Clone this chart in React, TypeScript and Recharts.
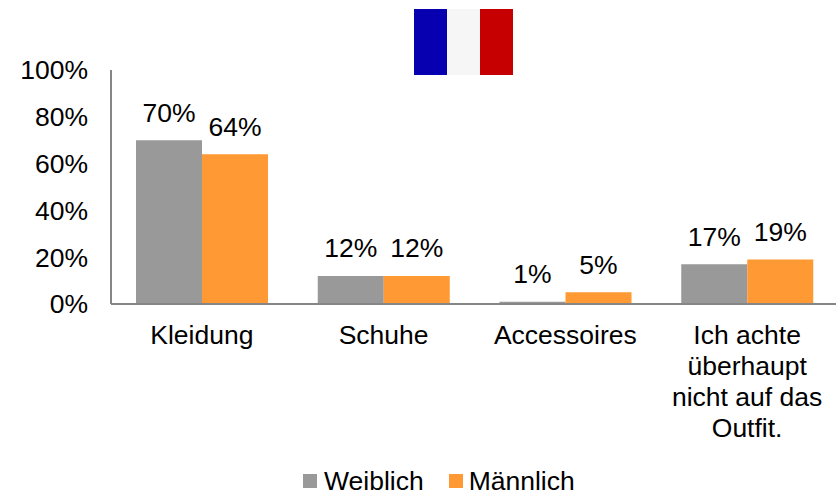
import { BarChart, Bar, XAxis, YAxis, Legend, LabelList } from "recharts";

const CATEGORIES = ["Kleidung", "Schuhe", "Accessoires", "Ich achte überhaupt nicht auf das Outfit."];
const WEIBLICH = [70, 12, 1, 17];
const MAENNLICH = [64, 12, 5, 19];
const Y_TICKS = [0, 20, 40, 60, 80, 100];

const CATEGORY_LINES: Record<string, string[]> = {
  "Ich achte überhaupt nicht auf das Outfit.": ["Ich achte", "überhaupt", "nicht auf das", "Outfit."],
};

const FONT = "'Liberation Sans', Arial, sans-serif";
const FONT_SIZE = 26.5;
const AXIS_COLOR = "#868686";

const chartData = CATEGORIES.map((category, i) => ({
  category,
  weiblich: WEIBLICH[i],
  maennlich: MAENNLICH[i],
}));

function CategoryTick({ x, y, payload }: any) {
  const lines = CATEGORY_LINES[payload.value] ?? [payload.value];
  return (
    <text x={x} y={y} textAnchor="middle" fontSize={FONT_SIZE} fill="#000" fontFamily={FONT}>
      {lines.map((line: string, i: number) => (
        <tspan key={line} x={x} dy={i === 0 ? 32 : 31}>
          {line}
        </tspan>
      ))}
    </text>
  );
}

function ChartLegend() {
  return (
    <div style={{ display: "flex", alignItems: "center", fontSize: FONT_SIZE, fontFamily: FONT, lineHeight: "30px", color: "#000", whiteSpace: "nowrap" }}>
      <span style={{ width: 14, height: 14, background: "#999999", marginRight: 7 }} />
      <span style={{ marginRight: 25 }}>Weiblich</span>
      <span style={{ width: 14, height: 14, background: "#ff9933", marginRight: 6 }} />
      <span>Männlich</span>
    </div>
  );
}

export default function App() {
  return (
    <div style={{ position: "absolute", left: 0, top: 0, width: 836, height: 498, overflow: "hidden", background: "#fff" }}>
      <div style={{ position: "absolute", left: 414, top: 9, width: 99, height: 66, display: "flex" }}>
        <div style={{ flex: 1, background: "#0600b0" }} />
        <div style={{ flex: 1, background: "#f6f6f6" }} />
        <div style={{ flex: 1, background: "#c60000" }} />
      </div>
      <BarChart
        width={838}
        height={498}
        data={chartData}
        barSize={66}
        barGap={0}
        margin={{ top: 70, right: 0, bottom: 0, left: 0 }}
        style={{ fontFamily: FONT }}
      >
        <XAxis
          dataKey="category"
          interval={0}
          tick={<CategoryTick />}
          tickLine={false}
          axisLine={{ stroke: AXIS_COLOR, strokeWidth: 2 }}
          height={164}
        />
        <YAxis
          domain={[0, 100]}
          ticks={Y_TICKS}
          width={111}
          tickFormatter={(v) => `${v}%`}
          tick={{ fill: "#000", fontSize: FONT_SIZE, fontFamily: FONT, dx: -15 }}
          tickLine={false}
          axisLine={{ stroke: AXIS_COLOR, strokeWidth: 2 }}
        />
        <Legend
          content={<ChartLegend />}
          wrapperStyle={{ left: 303, top: 466, width: 300, height: 30, bottom: "auto" }}
        />
        <Bar dataKey="weiblich" name="Weiblich" fill="#999999" isAnimationActive={false}>
          <LabelList dataKey="weiblich" position="top" offset={18.5} formatter={(v: number) => `${v}%`} style={{ fill: "#000", fontSize: FONT_SIZE, fontFamily: FONT }} />
        </Bar>
        <Bar dataKey="maennlich" name="Männlich" fill="#ff9933" isAnimationActive={false}>
          <LabelList dataKey="maennlich" position="top" offset={18.5} formatter={(v: number) => `${v}%`} style={{ fill: "#000", fontSize: FONT_SIZE, fontFamily: FONT }} />
        </Bar>
      </BarChart>
    </div>
  );
}
